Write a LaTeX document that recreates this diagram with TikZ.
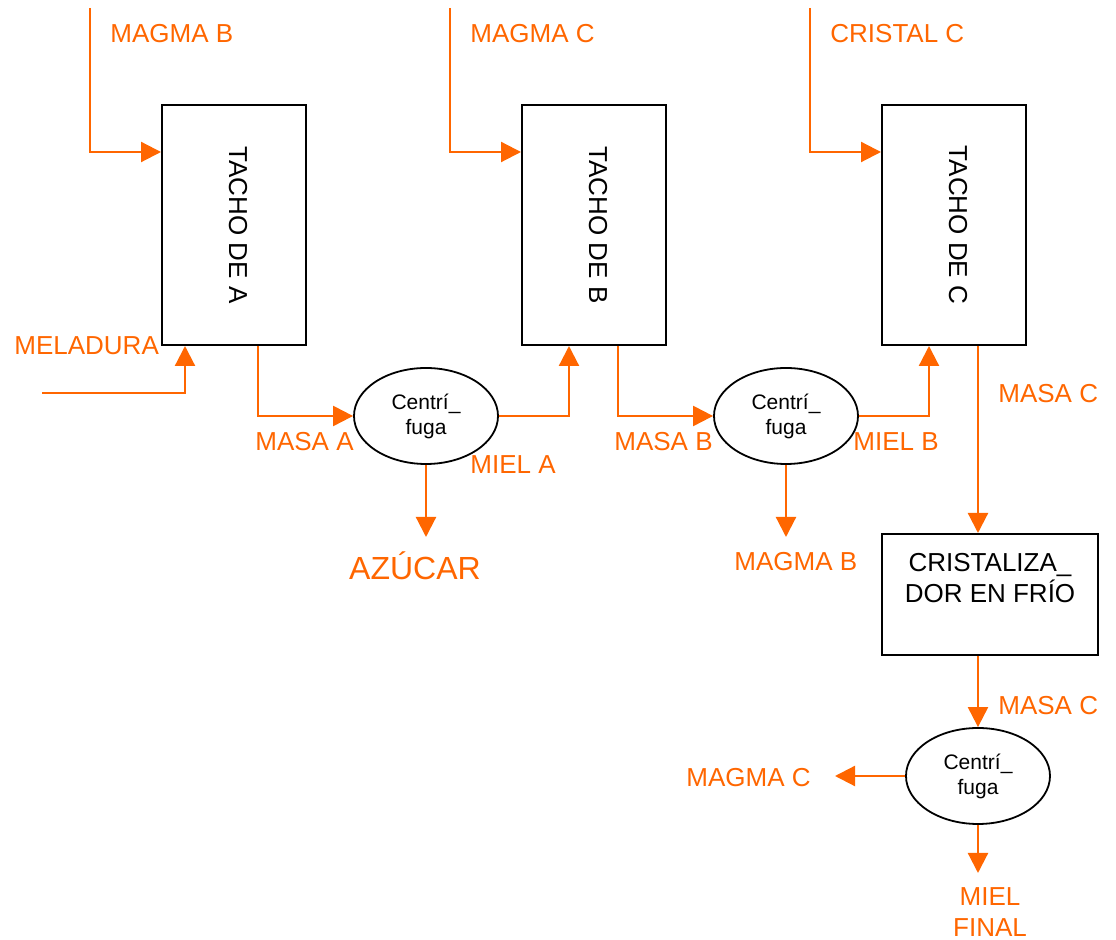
\documentclass[tikz,border=0pt]{standalone}
\usepackage{fontspec}
\setmainfont{Liberation Sans}
\usetikzlibrary{shapes.geometric,calc,arrows.meta}
\definecolor{flujo}{RGB}{255,102,0}

\tikzset{
  tacho/.style={draw, line width=1pt, minimum width=72pt, minimum height=120pt, inner sep=0},
  centrifuga/.style={draw, ellipse, line width=0.9pt, minimum width=72pt, minimum height=48pt,
    inner sep=0, align=center, font=\fontsize{10.5}{12.5}\selectfont},
  flow/.style={draw=flujo, line width=1.1pt, -{Triangle[length=10pt,width=10pt]}},
  etiq/.style={text=flujo, inner sep=0, anchor=west, font=\fontsize{13}{15.5}\selectfont},
  txt/.style={inner sep=0, font=\fontsize{13}{15.5}\selectfont}
}

\begin{document}
\begin{tikzpicture}[x=0.5pt,y=-0.5pt]
    \useasboundingbox (0,0) rectangle (1116,940);
    % Tachos
    \node[tacho] (tachoA) at (234,225) {};
    \node[tacho] (tachoB) at (594,225) {};
    \node[tacho] (tachoC) at (954,225) {};
    \node[txt, rotate=-90] at (238,225) {TACHO DE A};
    \node[txt, rotate=-90] at (598,225) {TACHO DE B};
    \node[txt, rotate=-90] at (958,225) {TACHO DE C};
    % Centrifugas
    \node[centrifuga] (cenA) at (426,416) {Centrí\_\\fuga};
    \node[centrifuga] (cenB) at (786,416) {Centrí\_\\fuga};
    \node[centrifuga] (cenC) at (978,776) {Centrí\_\\fuga};
    % Cristalizador
    \node[tacho, minimum width=108pt, minimum height=60.5pt] (cristal) at (990,594.5) {};
    \node[txt, align=center] at (990,578) {CRISTALIZA\_\\DOR EN FRÍO};
    % Free ends
    \coordinate (inA) at (90,8);
    \coordinate (inB) at (450,8);
    \coordinate (inC) at (810,8);
    \coordinate (mel) at (42,393);
    \coordinate (azu) at (426,537);
    \coordinate (magB) at (786,537);
    \coordinate (magC) at (835,776);
    \coordinate (fin) at (978,873);
    \coordinate (outC) at ($(tachoC.south)+(24,0)$);
    % Inputs
    \draw[flow] (inA) |- ($(tachoA.north west)+(0,48)$);
    \draw[flow] (inB) |- ($(tachoB.north west)+(0,48)$);
    \draw[flow] (inC) |- ($(tachoC.north west)+(0,48)$);
    \draw[flow] (mel) -| ($(tachoA.south west)+(24,0)$);
    % Masas and mieles
    \draw[flow] ($(tachoA.south)+(24,0)$) |- (cenA.west);
    \draw[flow] (cenA.east) -| ($(tachoB.south west)+(48,0)$);
    \draw[flow] (cenA.south) -- (azu);
    \draw[flow] ($(tachoB.south)+(24,0)$) |- (cenB.west);
    \draw[flow] (cenB.east) -| ($(tachoC.south west)+(48,0)$);
    \draw[flow] (cenB.south) -- (magB);
    \draw[flow] (outC) -- (outC |- cristal.north);
    \draw[flow] (cristal.south -| cenC) -- (cenC.north);
    \draw[flow] (cenC.west) -- (magC);
    \draw[flow] (cenC.south) -- (fin);
    % Labels
    \node[etiq] at (110,34) {MAGMA B};
    \node[etiq] at (470,34) {MAGMA C};
    \node[etiq] at (830,34) {CRISTAL C};
    \node[etiq] at (14,346) {MELADURA};
    \node[etiq] at (255,442) {MASA A};
    \node[etiq] at (470,465) {MIEL A};
    \node[etiq, anchor=center, font=\fontsize{16}{19}\selectfont] at (415,566) {AZÚCAR};
    \node[etiq] at (614,442) {MASA B};
    \node[etiq] at (853,442) {MIEL B};
    \node[etiq] at (734,562) {MAGMA B};
    \node[etiq] at (998,394) {MASA C};
    \node[etiq] at (998,706) {MASA C};
    \node[etiq] at (686,778) {MAGMA C};
    \node[etiq, anchor=center, align=center] at (990,912) {MIEL\\FINAL};
\end{tikzpicture}
\end{document}
